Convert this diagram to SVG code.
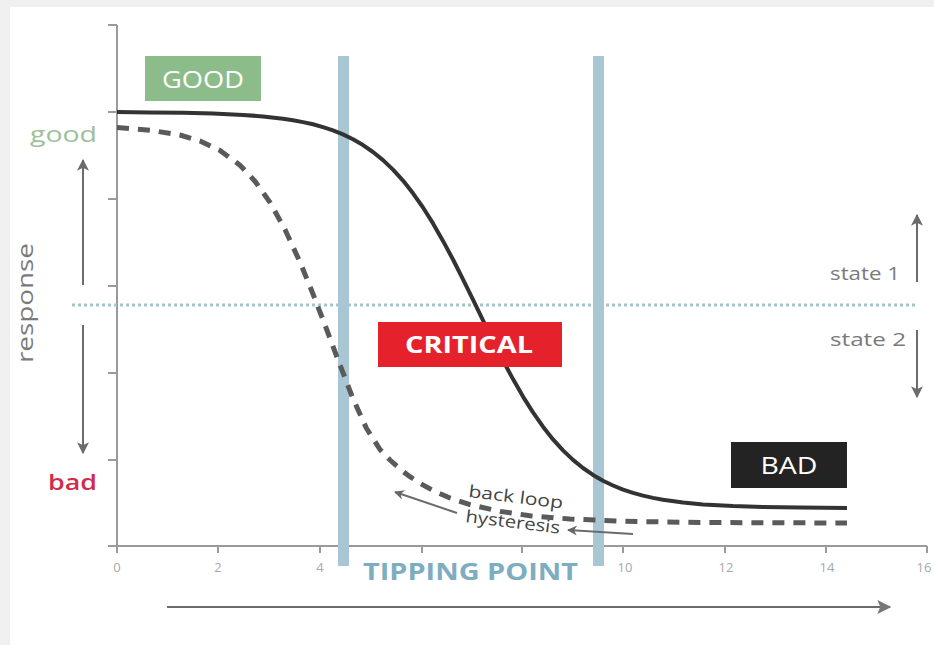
<svg xmlns="http://www.w3.org/2000/svg" width="934" height="645" viewBox="0 0 934 645">
<style>
.ax{stroke:#9a9a9a;stroke-width:2;fill:none}
.tk{font-family:"Open Sans","DejaVu Sans",sans-serif;font-size:13px;fill:#a8a8a8;text-anchor:middle}
.lbl{font-family:"Open Sans","DejaVu Sans",sans-serif}
.box{font-family:"Open Sans","DejaVu Sans",sans-serif;font-size:23px;fill:#fff;text-anchor:middle}
.arr{stroke:#6b6b6b;stroke-width:2;fill:none}
.bar{fill:#a9c6d5}
</style>
<defs>
<marker id="ah" viewBox="0 0 10 10" refX="9" refY="5" markerWidth="12" markerHeight="12" markerUnits="userSpaceOnUse" orient="auto"><path d="M0,0 L10,5 L0,10 L2.5,5 z" fill="#6b6b6b"/></marker>
<marker id="ahs" viewBox="0 0 10 10" refX="9" refY="5" markerWidth="11" markerHeight="10" markerUnits="userSpaceOnUse" orient="auto"><path d="M0,0 L10,5 L0,10 L3,5 z" fill="#666"/></marker>
<marker id="ahb" viewBox="0 0 10 10" refX="9" refY="5" markerWidth="14" markerHeight="14" markerUnits="userSpaceOnUse" orient="auto"><path d="M0,0 L10,5 L0,10 L2,5 z" fill="#777"/></marker>
</defs>

<g id="background">
<rect x="0" y="0" width="934" height="645" fill="#ffffff"/>
<rect x="0" y="0" width="934" height="7" fill="#f0f0f0"/>
<rect x="0" y="0" width="10" height="645" fill="#f0f0f0"/>
</g>

<g id="axes">
<path class="ax" d="M117,25 V546 M108,546 H927 M108,25 H117 M108,112 H117 M108,199 H117 M108,286 H117 M108,373 H117 M108,460 H117"/>
<path class="ax" stroke-width="1.5" d="M117,546 V553 M218,546 V553 M320,546 V553 M422,546 V553 M522,546 V553 M623,546 V553 M725,546 V553 M826,546 V553 M927,546 V553"/>
<text class="tk" x="117" y="572">0</text>
<text class="tk" x="218" y="572">2</text>
<text class="tk" x="320" y="572">4</text>
<text class="tk" x="625" y="572">10</text>
<text class="tk" x="726" y="572">12</text>
<text class="tk" x="827" y="572">14</text>
<text class="tk" x="924" y="572">16</text>
<text class="lbl" x="0" y="0" transform="translate(33,303) rotate(-90)" font-size="21" fill="#7a7a7a" text-anchor="middle" textLength="120" lengthAdjust="spacingAndGlyphs">response</text>
<text class="lbl" x="30" y="142" font-size="22" fill="#9dbf9b" textLength="67" lengthAdjust="spacingAndGlyphs">good</text>
<text class="lbl" x="48" y="490" font-size="22" fill="#d22b4b" font-weight="600" textLength="49" lengthAdjust="spacingAndGlyphs">bad</text>
<text class="lbl" x="830" y="280" font-size="19" fill="#7a7a7a" textLength="70" lengthAdjust="spacingAndGlyphs">state 1</text>
<text class="lbl" x="830" y="346" font-size="19" fill="#7a7a7a" textLength="76" lengthAdjust="spacingAndGlyphs">state 2</text>
</g>

<g id="threshold">
<line x1="72" y1="305" x2="915" y2="305" stroke="#a3c6c8" stroke-width="3" stroke-dasharray="3 3"/>
</g>

<g id="tipping-bars">
<rect class="bar" x="338" y="56" width="11" height="510"/>
<rect class="bar" x="593" y="56" width="11" height="510"/>
</g>

<g id="curves">
<polyline id="curve-forward" fill="none" stroke="#333" stroke-width="4" stroke-linejoin="round" points="117,112 150,112.4 183,112.8 213,113.6 243,114.9 263,116.4 283,118.7 293,120.2 303,122.1 313,124.3 323,127.1 333,130.4 343,134.4 353,139.3 363,145.1 373,152 383,160.1 393,169.6 403,180.6 413,193.3 423,207.5 433,223.4 443,240.9 453,259.5 463,279.3 473,299.7 483,320.3 493,340.7 503,360.5 513,379.1 523,396.6 533,412.4 543,426.7 553,439.4 563,450.4 573,459.9 583,468 593,474.9 603,480.7 613,485.5 623,489.6 633,492.9 643,495.6 653,497.9 663,499.8 683,502.5 703,504.4 733,506.1 763,507 800,507.6 847,508"/>
<polyline id="curve-backward" fill="none" stroke="#5a5a5a" stroke-width="5" stroke-dasharray="12 9" stroke-linejoin="round" points="117,127.5 150,130.2 180,135 200,141 220,150.5 240,165.2 255,181.2 270,202.4 285,229.5 300,262.1 312,291.5 325,325 338.7,361.6 352.5,397.4 366.3,428 380,449.5 390,460 400,469 410,476.7 420,483.3 435,491.5 450,498 470,504.6 500,511.4 530,515.7 570,519 620,521.2 700,522.5 847,523"/>
</g>

<g id="good-node">
<rect x="145" y="56" width="116" height="45" fill="#8cbc8a"/>
<text class="box" x="203" y="88" textLength="82" lengthAdjust="spacingAndGlyphs">GOOD</text>
</g>

<g id="critical-node">
<rect x="378" y="322" width="184" height="45" fill="#e5222b"/>
<text class="box" x="469" y="353" font-weight="700" textLength="128" lengthAdjust="spacingAndGlyphs">CRITICAL</text>
</g>

<g id="bad-node">
<rect x="731" y="442" width="116" height="46" fill="#232323"/>
<text class="box" x="789" y="474" textLength="57" lengthAdjust="spacingAndGlyphs">BAD</text>
</g>

<g id="tipping-point-label">
<text class="lbl" x="363" y="580" font-size="23" font-weight="700" fill="#7eadc0" textLength="215" lengthAdjust="spacingAndGlyphs">TIPPING POINT</text>
</g>

<g id="hysteresis-label">
<text class="lbl" x="468" y="497" font-size="17" fill="#444" transform="rotate(7 468 497)" textLength="95" lengthAdjust="spacingAndGlyphs">back loop</text>
<text class="lbl" x="465" y="522" font-size="17" fill="#444" transform="rotate(7 465 522)" textLength="95" lengthAdjust="spacingAndGlyphs">hysteresis</text>
</g>

<g id="connectors">
<line class="arr" x1="83" y1="285" x2="83" y2="160" marker-end="url(#ah)"/>
<line class="arr" x1="83" y1="325" x2="83" y2="453" marker-end="url(#ah)"/>
<line class="arr" x1="917" y1="282" x2="917" y2="215" marker-end="url(#ah)"/>
<line class="arr" x1="917" y1="330" x2="917" y2="397" marker-end="url(#ah)"/>
<line class="arr" stroke="#666" x1="457" y1="513" x2="395" y2="492" marker-end="url(#ahs)"/>
<line class="arr" stroke="#666" x1="633" y1="534" x2="568" y2="530" marker-end="url(#ahs)"/>
<line class="arr" stroke="#777" stroke-width="3" x1="167" y1="607" x2="890" y2="607" marker-end="url(#ahb)"/>
</g>
</svg>
